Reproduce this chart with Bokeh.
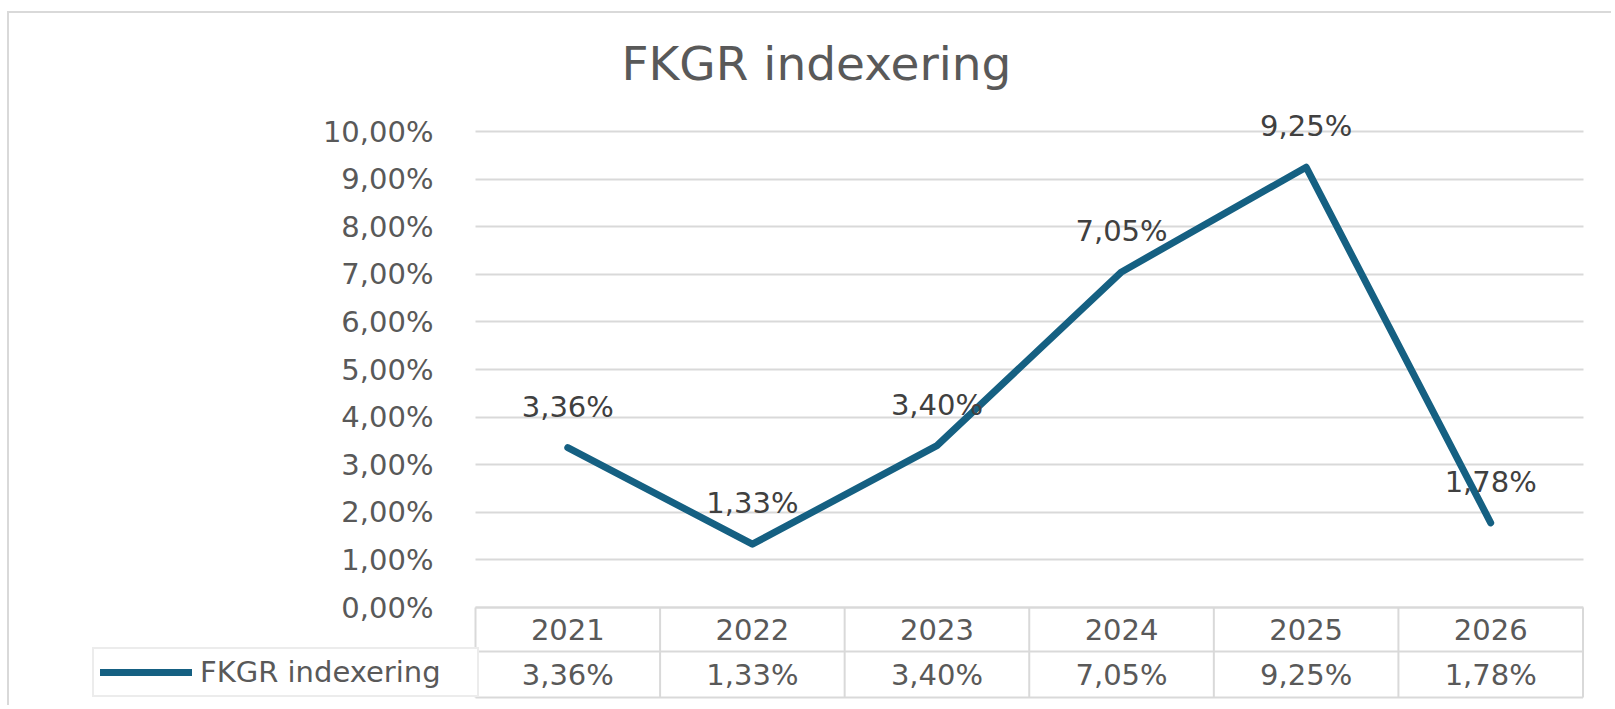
import numpy as np
from bokeh.plotting import figure
from bokeh.models import (Range1d, FixedTicker, CustomJSTickFormatter, Legend,
                          LegendItem, ColumnDataSource)
from bokeh.core.properties import value
from bokeh.embed import file_html
from bokeh.resources import INLINE

# ---------------- data ----------------
chart_title = "FKGR indexering"
series_name = "FKGR indexering"
years = ["2021", "2022", "2023", "2024", "2025", "2026"]
values = [3.36, 1.33, 3.40, 7.05, 9.25, 1.78]          # percent
y_ticks = [0, 1, 2, 3, 4, 5, 6, 7, 8, 9, 10]            # percent

value_labels = [f"{v:.2f}".replace(".", ",") + "%" for v in values]

# ---------------- styles / layout ----------------
FONT = "DejaVu Sans"
LINE_COLOR = "#156082"
GRID_COLOR = "#d9d9d9"
TEXT_COLOR = "#595959"
LABEL_COLOR = "#404040"
FS = "29px"

OX, OY = 9, 13             # page position of the canvas (css margin + border)
W, H = 1604, 694
PX_PER_PCT = 47.6          # vertical scale of the chart area
BASE_PAGE = 607            # page y of 0 %
CAT_LEFT_PAGE, CAT_RIGHT_PAGE = 475, 1582.5
FRAME_LEFT_PAGE, FRAME_RIGHT_PAGE = 90, 1585
FRAME_TOP_PAGE, FRAME_BOTTOM_PAGE = 98, 699

n = len(years)
px_per_cat = (CAT_RIGHT_PAGE - CAT_LEFT_PAGE) / n
x_start = -(CAT_LEFT_PAGE - FRAME_LEFT_PAGE) / px_per_cat
x_end = n + (FRAME_RIGHT_PAGE - CAT_RIGHT_PAGE) / px_per_cat
y_start = -(FRAME_BOTTOM_PAGE - BASE_PAGE) / PX_PER_PCT
y_end = (BASE_PAGE - FRAME_TOP_PAGE) / PX_PER_PCT

p = figure(width=W, height=H, output_backend="svg", toolbar_location=None,
           x_range=Range1d(x_start, x_end), y_range=Range1d(y_start, y_end),
           min_border_left=FRAME_LEFT_PAGE - OX,
           min_border_right=W - (FRAME_RIGHT_PAGE - OX),
           min_border_top=FRAME_TOP_PAGE - OY,
           min_border_bottom=H - (FRAME_BOTTOM_PAGE - OY))
p.extra_y_ranges = {"table": Range1d(-(FRAME_BOTTOM_PAGE - BASE_PAGE), BASE_PAGE - FRAME_TOP_PAGE)}
p.styles = {"margin-left": "7px", "margin-top": "11px",
            "border-left": "2px solid #d9d9d9", "border-top": "2px solid #d9d9d9"}

p.background_fill_color = "white"
p.border_fill_color = "white"
p.outline_line_color = None

# title
p.title.text = chart_title
p.title.text_font = FONT
p.title.text_font_size = "47px"
p.title.text_font_style = "normal"
p.title.text_color = TEXT_COLOR
p.title.align = "left"
p.title.offset = 531
p.title.standoff = 16

# axes: y labels are right-aligned at page x 433, left of the plot area
p.xaxis.visible = False
yax = p.yaxis[0]
yax.ticker = FixedTicker(ticks=y_ticks)
yax.formatter = CustomJSTickFormatter(code="return tick.toFixed(2).replace('.', ',') + '%';")
yax.axis_line_color = None
yax.major_tick_line_color = None
yax.minor_tick_line_color = None
yax.major_tick_out = 0
yax.major_tick_in = 0
yax.major_label_standoff = -(433 - FRAME_LEFT_PAGE)
yax.major_label_text_font = FONT
yax.major_label_text_font_size = FS
yax.major_label_text_color = TEXT_COLOR

p.xgrid.visible = False
grid = p.ygrid[0]
if "cross_bounds" in grid.properties():
    grid.ticker = FixedTicker(ticks=y_ticks)
    grid.cross_bounds = (0, n)
    grid.grid_line_color = GRID_COLOR
    grid.grid_line_width = 2
else:
    grid.visible = False
    p.segment(x0=[0] * len(y_ticks), y0=y_ticks, x1=[n] * len(y_ticks), y1=y_ticks,
              line_color=GRID_COLOR, line_width=2)

# ---------------- data table below the chart ----------------
ROW1, ROW2 = -44, -90      # table row boundaries, px below the 0 % line
bounds = np.arange(n + 1)
p.segment(x0=bounds, y0=0, x1=bounds, y1=ROW2, y_range_name="table",
          line_color=GRID_COLOR, line_width=2)
p.segment(x0=[0, 0, 0], y0=[0, ROW1, ROW2], x1=[n, n, n], y1=[0, ROW1, ROW2],
          y_range_name="table", line_color=GRID_COLOR, line_width=2)

xc = np.arange(n) + 0.5
p.text(x=xc, y=[ROW1 / 2] * n, text=years, y_range_name="table",
       text_align="center", text_baseline="middle", text_font=value(FONT),
       text_font_size=FS, text_color=TEXT_COLOR)
p.text(x=xc, y=[(ROW1 + ROW2) / 2] * n, text=value_labels, y_range_name="table",
       text_align="center", text_baseline="middle", text_font=value(FONT),
       text_font_size=FS, text_color=TEXT_COLOR)

# ---------------- series ----------------
src = ColumnDataSource(dict(x=xc, y=values, lab=value_labels))
line_r = p.line("x", "y", source=src, line_color=LINE_COLOR, line_width=7,
                line_join="round", line_cap="round")
p.text("x", "y", text="lab", source=src, y_offset=-41, text_align="center",
       text_baseline="middle", text_font=value(FONT), text_font_size=FS,
       text_color=LABEL_COLOR)

# legend cell (left of the value row)
legend = Legend(items=[LegendItem(label=series_name, renderers=[line_r])],
                location=(92 - FRAME_LEFT_PAGE, FRAME_BOTTOM_PAGE - 697),
                padding=6, glyph_width=92, glyph_height=34, label_standoff=8,
                label_width=271, label_height=34,
                label_text_font=FONT, label_text_font_size=FS,
                label_text_color=TEXT_COLOR, label_text_baseline="middle",
                border_line_color=GRID_COLOR, border_line_width=2,
                background_fill_color="white", background_fill_alpha=1.0)
p.add_layout(legend, "center")

open("out.html", "w").write(file_html(p, INLINE))
